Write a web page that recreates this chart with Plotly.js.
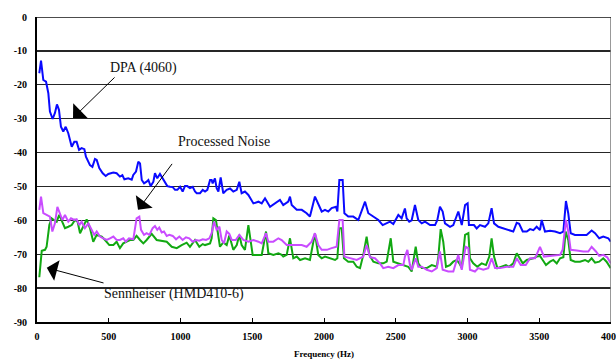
<!DOCTYPE html>
<html>
<head>
<meta charset="utf-8">
<script src="https://cdn.plot.ly/plotly-3.0.1.min.js"></script>
<style>html,body{margin:0;padding:0;background:#fff;}#chart{width:616px;height:360px;}</style>
</head>
<body>
<div id="chart"></div>
<script>
// DPA (4060)
const freqDPA = [16,28,44,63,79,90,109,125,139,153,167,183,200,218,242,260,276,293,311,330,341,369,386,404,416,434,458,479,497,532,555,578,595,609,636,660,671,690,706,718,730,746,764,776,792,811,822,838,857,876,892,908,927,946,962,978,997,1015,1031,1047,1066,1085,1101,1113,1136,1155,1171,1187,1206,1217,1224,1240,1252,1264,1280,1298,1322,1345,1368,1392,1410,1426,1449,1473,1508,1543,1566,1589,1624,1658,1693,1716,1751,1763,1775,1810,1845,1879,1902,1937,1960,1984,2007,2030,2053,2084,2093,2107,2130,2142,2169,2204,2239,2263,2286,2309,2344,2379,2409,2437,2460,2483,2518,2541,2564,2576,2594,2611,2634,2657,2681,2704,2739,2774,2790,2808,2827,2843,2878,2901,2936,2960,2983,3001,3010,3030,3045,3064,3087,3122,3145,3168,3185,3215,3250,3284,3319,3343,3360,3385,3413,3436,3459,3482,3505,3517,3540,3575,3610,3645,3668,3686,3702,3719,3749,3784,3830,3865,3889,3918,3946,3981,3998];
const dbDPA = [-16.6,-12.9,-18.6,-19.1,-22.5,-27.9,-30.1,-28.3,-25.8,-27.4,-32.4,-33.8,-32.4,-34.3,-38.3,-36.8,-36.8,-39.2,-38.7,-39.0,-41.2,-43.7,-44.2,-41.9,-42.2,-44.6,-46.1,-46.9,-46.3,-45.9,-46.1,-47.1,-46.7,-47.9,-47.6,-48.0,-46.6,-45.6,-42.7,-43.2,-48.1,-49.1,-48.6,-48.1,-49.9,-48.6,-46.1,-47.6,-46.3,-47.6,-49.1,-49.9,-50.1,-50.2,-51.0,-51.0,-50.1,-51.5,-49.9,-49.9,-50.5,-50.1,-51.5,-52.0,-52.0,-51.0,-51.5,-51.0,-48.1,-48.1,-49.1,-47.6,-50.5,-51.5,-47.3,-52.0,-51.0,-50.6,-51.5,-51.0,-48.6,-52.0,-51.5,-52.5,-55.0,-54.5,-55.0,-53.5,-56.0,-55.0,-54.0,-55.5,-54.5,-53.0,-55.5,-56.9,-56.9,-57.9,-58.9,-53.0,-55.0,-57.4,-56.9,-57.4,-56.4,-56.0,-57.4,-48.1,-48.1,-57.9,-58.9,-58.9,-59.9,-57.4,-54.5,-57.9,-58.9,-59.9,-61.4,-60.9,-60.4,-61.1,-58.4,-59.4,-56.5,-59.4,-60.4,-60.0,-55.5,-59.9,-60.9,-60.4,-61.4,-61.4,-59.9,-56.0,-57.4,-60.9,-61.9,-61.4,-57.4,-61.4,-55.5,-55.0,-61.4,-61.4,-61.4,-62.4,-61.4,-61.9,-60.9,-56.4,-60.9,-61.9,-62.4,-62.8,-63.3,-60.7,-61.0,-63.3,-63.3,-62.6,-62.9,-61.9,-62.9,-59.9,-63.3,-63.1,-63.3,-63.8,-63.3,-54.3,-57.9,-63.8,-64.3,-64.3,-64.3,-63.0,-63.8,-65.3,-64.8,-65.3,-66.3];

// Processed Noise
const freqProc = [16,28,44,67,90,107,125,142,160,177,195,218,237,260,276,295,311,334,358,381,399,416,439,462,486,509,532,555,578,601,618,641,671,694,713,725,746,764,783,806,822,838,852,869,885,904,922,946,969,992,1015,1038,1061,1085,1108,1131,1155,1178,1201,1217,1233,1252,1271,1287,1303,1322,1340,1357,1385,1410,1438,1473,1508,1543,1566,1596,1612,1647,1682,1705,1740,1775,1810,1845,1879,1914,1937,1960,1984,2020,2053,2088,2107,2130,2142,2181,2228,2274,2297,2321,2355,2390,2413,2448,2483,2518,2553,2564,2581,2599,2611,2639,2657,2681,2716,2751,2786,2808,2827,2866,2901,2936,2960,2987,3006,3017,3052,3075,3110,3145,3168,3192,3227,3273,3319,3343,3371,3406,3436,3471,3505,3533,3575,3610,3645,3663,3686,3702,3719,3761,3807,3842,3865,3895,3918,3946,3974,3998];
const dbProc = [-56.9,-53.0,-57.9,-58.4,-58.9,-63.3,-60.9,-56.0,-57.9,-59.9,-58.4,-60.4,-59.4,-59.9,-59.7,-61.4,-60.4,-62.3,-60.9,-62.8,-64.3,-63.3,-64.8,-65.3,-65.8,-65.3,-64.8,-65.8,-65.8,-65.3,-66.3,-65.3,-65.6,-59.4,-58.9,-62.8,-64.3,-63.8,-64.3,-62.3,-61.7,-62.8,-62.1,-63.6,-63.3,-64.6,-64.3,-64.6,-65.6,-64.8,-65.8,-65.0,-65.3,-66.3,-65.8,-66.0,-65.6,-65.8,-65.3,-63.8,-60.4,-62.8,-61.9,-65.8,-66.8,-63.3,-64.0,-65.8,-65.8,-64.3,-65.8,-66.3,-65.8,-66.3,-66.8,-63.8,-66.3,-66.3,-65.3,-65.8,-67.3,-67.3,-67.3,-67.3,-67.8,-66.3,-63.8,-67.3,-68.7,-68.7,-68.2,-67.8,-59.9,-59.9,-70.7,-71.2,-71.7,-70.7,-67.3,-70.9,-71.2,-72.7,-74.1,-73.7,-74.1,-73.2,-73.2,-70.7,-68.7,-73.2,-74.6,-71.2,-73.7,-73.7,-74.6,-75.1,-74.1,-69.2,-74.6,-75.1,-75.1,-70.2,-74.6,-67.8,-68.2,-74.6,-75.1,-74.1,-74.6,-74.1,-71.2,-74.1,-74.1,-73.7,-73.7,-71.2,-73.2,-73.2,-71.2,-71.2,-67.8,-70.7,-70.5,-70.5,-70.2,-68.7,-59.9,-63.3,-68.7,-68.9,-69.2,-69.2,-67.8,-69.2,-70.5,-70.2,-70.9,-72.7];

// Sennheiser (HMD410-6)
const freqSenn = [16,33,56,67,86,102,118,137,155,172,195,218,242,265,283,300,323,346,369,392,416,451,474,504,532,555,578,601,625,648,671,694,718,741,764,799,834,869,904,939,974,1008,1043,1066,1101,1131,1155,1171,1206,1217,1229,1247,1264,1275,1298,1322,1340,1368,1392,1410,1426,1449,1473,1489,1503,1543,1566,1596,1612,1647,1682,1705,1716,1740,1763,1786,1810,1833,1868,1902,1937,1960,1984,2007,2042,2077,2093,2107,2123,2139,2169,2204,2228,2251,2274,2297,2316,2344,2379,2413,2437,2465,2483,2518,2553,2587,2611,2639,2657,2681,2716,2751,2786,2797,2813,2831,2850,2878,2901,2925,2943,2960,2983,3006,3017,3040,3068,3099,3129,3152,3168,3185,3208,3238,3268,3290,3319,3343,3362,3385,3413,3436,3459,3482,3505,3524,3547,3575,3598,3622,3645,3668,3684,3702,3719,3749,3784,3819,3842,3865,3889,3918,3946,3969,3998];
const dbSenn = [-76.8,-69.0,-68.7,-67.8,-61.4,-59.4,-59.9,-60.4,-58.4,-59.9,-62.3,-61.9,-61.4,-59.9,-60.4,-63.8,-61.9,-59.7,-62.3,-66.3,-64.3,-64.8,-65.8,-67.3,-67.3,-66.3,-68.2,-66.8,-66.3,-65.8,-65.8,-64.6,-65.8,-66.8,-65.8,-64.0,-65.8,-66.0,-66.3,-67.8,-68.2,-67.3,-66.6,-67.8,-65.8,-67.8,-67.0,-67.3,-66.8,-65.3,-59.4,-59.9,-64.5,-67.8,-66.5,-67.3,-64.5,-68.7,-67.3,-64.3,-67.3,-68.7,-61.4,-66.3,-70.2,-70.2,-70.2,-63.3,-69.7,-70.2,-69.7,-70.2,-70.7,-70.2,-65.3,-71.2,-70.7,-71.7,-71.2,-71.7,-63.8,-70.2,-71.2,-70.7,-71.2,-71.7,-71.2,-62.3,-62.3,-71.2,-72.2,-72.2,-73.7,-74.1,-70.2,-64.8,-70.2,-72.2,-72.7,-72.7,-72.2,-65.3,-72.2,-72.7,-73.2,-73.7,-75.1,-67.8,-72.7,-74.1,-74.1,-73.2,-73.7,-70.7,-62.6,-66.3,-73.7,-73.2,-72.2,-71.7,-72.7,-74.1,-64.3,-63.8,-71.2,-72.7,-73.7,-72.7,-73.2,-70.7,-65.3,-70.7,-74.1,-73.7,-73.2,-73.7,-72.7,-69.7,-71.2,-72.7,-71.7,-71.5,-71.2,-70.7,-70.5,-71.7,-73.2,-72.2,-71.7,-72.7,-71.2,-70.9,-63.3,-65.8,-71.7,-72.2,-72.2,-71.7,-72.2,-71.2,-72.5,-72.2,-71.2,-72.2,-74.1];

const seriesNames = ['DPA (4060)', 'Processed Noise', 'Sennheiser (HMD410-6)'];
const xTicks = [0,500,1000,1500,2000,2500,3000,3500,4000];
const yTicks = [0,-10,-20,-30,-40,-50,-60,-70,-80,-90];
const xTitle = 'Frequency (Hz)';

const traces = [
  {x: freqDPA, y: dbDPA, name: seriesNames[0], mode: 'lines', line: {color: '#0a0aff', width: 2}},
  {x: freqSenn, y: dbSenn, name: seriesNames[2], mode: 'lines', line: {color: '#12a812', width: 2}},
  {x: freqProc, y: dbProc, name: seriesNames[1], mode: 'lines', line: {color: '#c94cff', width: 2}}
];

const serif = 'Liberation Serif, Times New Roman, serif';
const tickFont = {family: serif, size: 10, color: '#000', weight: 'bold'};
const labelFont = {family: serif, size: 14, color: '#111'};

function arrow(x, y, ax, ay) {
  return {x: x, y: y, ax: ax, ay: ay, xref: 'x', yref: 'y', axref: 'x', ayref: 'y',
    text: '', showarrow: true, arrowhead: 1, arrowsize: 3.5, arrowwidth: 1, arrowcolor: '#000', standoff: 0};
}
function label(t, x, y) {
  return {x: x, y: y, xref: 'x', yref: 'y', text: t, showarrow: false, font: labelFont, xanchor: 'center', yanchor: 'middle'};
}

const layout = {
  width: 616, height: 360,
  margin: {l: 37, r: 5, t: 17, b: 38},
  paper_bgcolor: '#fff', plot_bgcolor: '#fff',
  showlegend: false,
  xaxis: {
    range: [0, 4000], tickvals: xTicks, ticktext: xTicks.map(String),
    ticks: 'inside', ticklen: 4, tickcolor: '#000', tickwidth: 1,
    showgrid: false, zeroline: false,
    showline: true, linecolor: '#000', linewidth: 2,
    tickfont: tickFont, ticklabelstandoff: 4, ticklabeloverflow: 'allow',
    title: {text: xTitle, font: {family: serif, size: 9, color: '#000', weight: 'bold'}, standoff: 10}
  },
  yaxis: {
    range: [-90, 0], tickvals: yTicks, ticktext: yTicks.map(String),
    ticks: '', showgrid: true, gridcolor: '#262626', gridwidth: 1.3,
    zeroline: false, showline: true, linecolor: '#000', linewidth: 2,
    tickfont: tickFont, ticklabelstandoff: 6
  },
  shapes: [
    {type: 'line', xref: 'x', yref: 'y', x0: 4000, x1: 4000, y0: -90, y1: 0, line: {color: '#777', width: 1.5}},
    {type: 'line', xref: 'x', yref: 'y', x0: 0, x1: 4000, y0: 0, y1: 0, line: {color: '#111', width: 1.5}}
  ],
  annotations: [
    label(seriesNames[0], 739, -15.0),
    arrow(251, -29.8, 551, -17.4),
    label(seriesNames[1], 1304, -36.6),
    arrow(704, -56.9, 949, -42.9),
    label(seriesNames[2], 955, -81.7),
    arrow(68, -74.0, 474, -78.6)
  ]
};

Plotly.newPlot('chart', traces, layout, {displayModeBar: false, staticPlot: true});
</script>
</body>
</html>
